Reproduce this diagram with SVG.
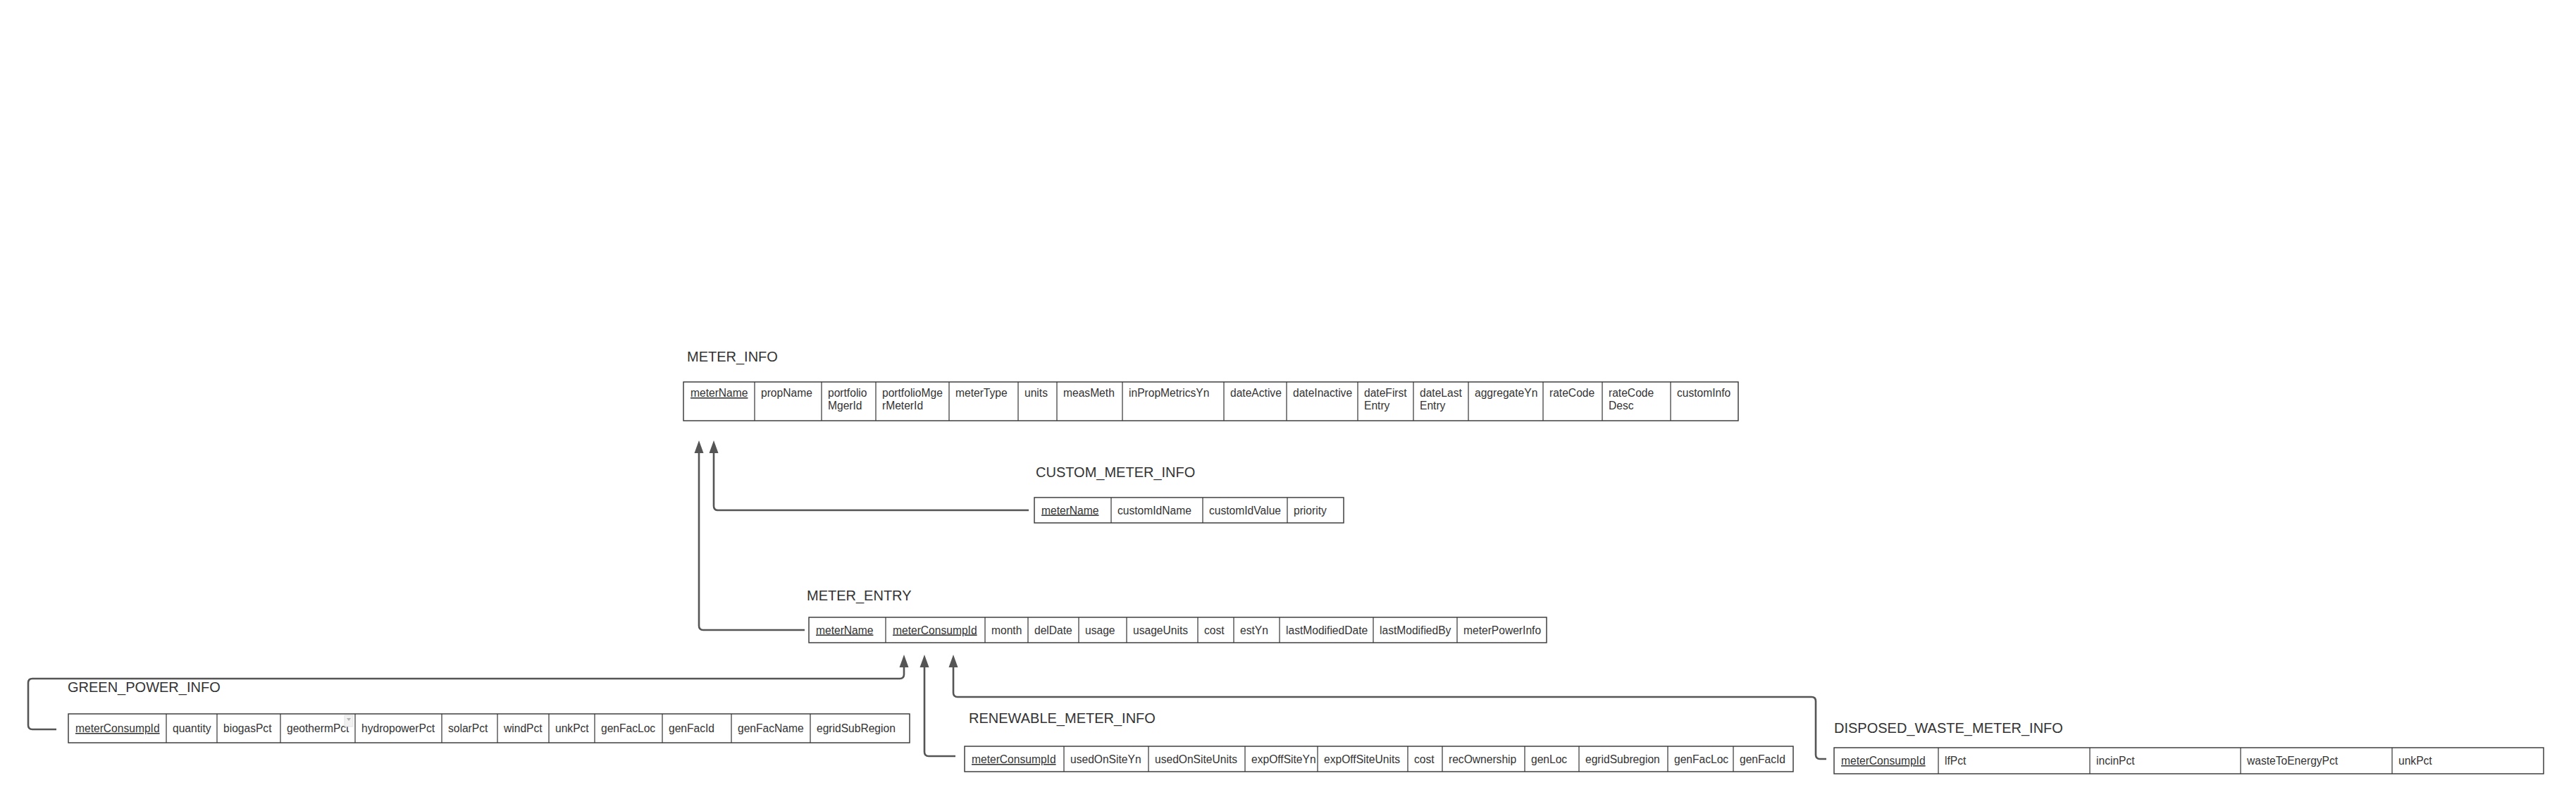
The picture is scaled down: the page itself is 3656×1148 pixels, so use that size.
<svg xmlns="http://www.w3.org/2000/svg" width="3656" height="1148" viewBox="0 0 3656 1148">
<style>
.bg{fill:#ffffff}
.title{font-family:"Liberation Sans",Arial,sans-serif;font-size:20px;fill:#333333}
.t{font-family:"Liberation Sans",Arial,sans-serif;font-size:15.6px;fill:#333333}
.pk{text-decoration:underline}
.cell{fill:#ffffff;stroke:#333333;stroke-width:1.4}
.div{stroke:#333333;stroke-width:1.2}
.conn{fill:none;stroke:#555555;stroke-width:2.6}
</style>
<defs>
<marker id="arr" markerUnits="userSpaceOnUse" markerWidth="18" markerHeight="14" viewBox="0 0 18 14" refX="0" refY="7" orient="auto">
<path d="M0,0.5 L18,7 L0,13.5 z" fill="#555555"/>
</marker>
</defs>
<rect class="bg" x="0" y="0" width="3656" height="1148"/>

<g id="connectors">
<path class="conn" marker-end="url(#arr)" d="M1142,894 H998 Q992,894 992,888 V643"/>
<path class="conn" marker-end="url(#arr)" d="M1460,724 H1019 Q1013,724 1013,718 V643"/>
<path class="conn" marker-end="url(#arr)" d="M80,1035 H46 Q40,1035 40,1029 V969 Q40,963 46,963 H1277 Q1283,963 1283,957 V947"/>
<path class="conn" marker-end="url(#arr)" d="M1356,1073 H1318 Q1312,1073 1312,1067 V947"/>
<path class="conn" marker-end="url(#arr)" d="M2592,1077 H2583 Q2577,1077 2577,1071 V995 Q2577,989 2571,989 H1359 Q1353,989 1353,983 V947"/>
</g>

<g id="METER_INFO">
<text class="title" x="975" y="513">METER_INFO</text>
<rect class="cell" x="970" y="542" width="1497" height="55"/>
<g class="div">
<line x1="1071" y1="542" x2="1071" y2="597"/><line x1="1166" y1="542" x2="1166" y2="597"/>
<line x1="1243" y1="542" x2="1243" y2="597"/><line x1="1347" y1="542" x2="1347" y2="597"/>
<line x1="1445" y1="542" x2="1445" y2="597"/><line x1="1500" y1="542" x2="1500" y2="597"/>
<line x1="1593" y1="542" x2="1593" y2="597"/><line x1="1737" y1="542" x2="1737" y2="597"/>
<line x1="1826" y1="542" x2="1826" y2="597"/><line x1="1927" y1="542" x2="1927" y2="597"/>
<line x1="2006" y1="542" x2="2006" y2="597"/><line x1="2084" y1="542" x2="2084" y2="597"/>
<line x1="2190" y1="542" x2="2190" y2="597"/><line x1="2274" y1="542" x2="2274" y2="597"/>
<line x1="2371" y1="542" x2="2371" y2="597"/>
</g>
<text class="t pk" x="980" y="563">meterName</text>
<text class="t" x="1080" y="563">propName</text>
<text class="t" x="1175" y="563">portfolio</text>
<text class="t" x="1175" y="581">MgerId</text>
<text class="t" x="1252" y="563">portfolioMge</text>
<text class="t" x="1252" y="581">rMeterId</text>
<text class="t" x="1356" y="563">meterType</text>
<text class="t" x="1454" y="563">units</text>
<text class="t" x="1509" y="563">measMeth</text>
<text class="t" x="1602" y="563">inPropMetricsYn</text>
<text class="t" x="1746" y="563">dateActive</text>
<text class="t" x="1835" y="563">dateInactive</text>
<text class="t" x="1936" y="563">dateFirst</text>
<text class="t" x="1936" y="581">Entry</text>
<text class="t" x="2015" y="563">dateLast</text>
<text class="t" x="2015" y="581">Entry</text>
<text class="t" x="2093" y="563">aggregateYn</text>
<text class="t" x="2199" y="563">rateCode</text>
<text class="t" x="2283" y="563">rateCode</text>
<text class="t" x="2283" y="581">Desc</text>
<text class="t" x="2380" y="563">customInfo</text>
</g>

<g id="CUSTOM_METER_INFO">
<text class="title" x="1470" y="677">CUSTOM_METER_INFO</text>
<rect class="cell" x="1468" y="706" width="439" height="36"/>
<g class="div">
<line x1="1577" y1="706" x2="1577" y2="742"/><line x1="1707" y1="706" x2="1707" y2="742"/>
<line x1="1827" y1="706" x2="1827" y2="742"/>
</g>
<text class="t pk" x="1478" y="729.5">meterName</text>
<text class="t" x="1586" y="729.5">customIdName</text>
<text class="t" x="1716" y="729.5">customIdValue</text>
<text class="t" x="1836" y="729.5">priority</text>
</g>

<g id="METER_ENTRY">
<text class="title" x="1145" y="852">METER_ENTRY</text>
<rect class="cell" x="1148" y="876" width="1047" height="36"/>
<g class="div">
<line x1="1257" y1="876" x2="1257" y2="912"/><line x1="1398" y1="876" x2="1398" y2="912"/>
<line x1="1459" y1="876" x2="1459" y2="912"/><line x1="1531" y1="876" x2="1531" y2="912"/>
<line x1="1599" y1="876" x2="1599" y2="912"/><line x1="1700" y1="876" x2="1700" y2="912"/>
<line x1="1751" y1="876" x2="1751" y2="912"/><line x1="1816" y1="876" x2="1816" y2="912"/>
<line x1="1949" y1="876" x2="1949" y2="912"/><line x1="2068" y1="876" x2="2068" y2="912"/>
</g>
<text class="t pk" x="1158" y="899.5">meterName</text>
<text class="t pk" x="1267" y="899.5">meterConsumpId</text>
<text class="t" x="1407" y="899.5">month</text>
<text class="t" x="1468" y="899.5">delDate</text>
<text class="t" x="1540" y="899.5">usage</text>
<text class="t" x="1608" y="899.5">usageUnits</text>
<text class="t" x="1709" y="899.5">cost</text>
<text class="t" x="1760" y="899.5">estYn</text>
<text class="t" x="1825" y="899.5">lastModifiedDate</text>
<text class="t" x="1958" y="899.5">lastModifiedBy</text>
<text class="t" x="2077" y="899.5">meterPowerInfo</text>
</g>

<g id="GREEN_POWER_INFO">
<text class="title" x="96" y="982">GREEN_POWER_INFO</text>
<rect class="cell" x="97" y="1013" width="1194" height="41"/>
<g class="div">
<line x1="236" y1="1013" x2="236" y2="1054"/><line x1="308" y1="1013" x2="308" y2="1054"/>
<line x1="398" y1="1013" x2="398" y2="1054"/><line x1="504" y1="1013" x2="504" y2="1054"/>
<line x1="627" y1="1013" x2="627" y2="1054"/><line x1="706" y1="1013" x2="706" y2="1054"/>
<line x1="779" y1="1013" x2="779" y2="1054"/><line x1="844" y1="1013" x2="844" y2="1054"/>
<line x1="940" y1="1013" x2="940" y2="1054"/><line x1="1038" y1="1013" x2="1038" y2="1054"/>
<line x1="1150" y1="1013" x2="1150" y2="1054"/>
</g>
<text class="t pk" x="107" y="1039">meterConsumpId</text>
<text class="t" x="245" y="1039">quantity</text>
<text class="t" x="317" y="1039">biogasPct</text>
<text class="t" x="407" y="1039">geothermPct</text>
<rect x="489" y="1015" width="12" height="16" fill="#f2f2f2" stroke="#dddddd" stroke-width="0.8"/>
<path d="M492,1019 L498,1019 L495,1023 z" fill="#b0b0b0"/>
<text class="t" x="513" y="1039">hydropowerPct</text>
<text class="t" x="636" y="1039">solarPct</text>
<text class="t" x="715" y="1039">windPct</text>
<text class="t" x="788" y="1039">unkPct</text>
<text class="t" x="853" y="1039">genFacLoc</text>
<text class="t" x="949" y="1039">genFacId</text>
<text class="t" x="1047" y="1039">genFacName</text>
<text class="t" x="1159" y="1039">egridSubRegion</text>
</g>

<g id="RENEWABLE_METER_INFO">
<text class="title" x="1375" y="1026">RENEWABLE_METER_INFO</text>
<rect class="cell" x="1369" y="1059" width="1176" height="36"/>
<g class="div">
<line x1="1510" y1="1059" x2="1510" y2="1095"/><line x1="1630" y1="1059" x2="1630" y2="1095"/>
<line x1="1767" y1="1059" x2="1767" y2="1095"/><line x1="1870" y1="1059" x2="1870" y2="1095"/>
<line x1="1998" y1="1059" x2="1998" y2="1095"/><line x1="2047" y1="1059" x2="2047" y2="1095"/>
<line x1="2164" y1="1059" x2="2164" y2="1095"/><line x1="2241" y1="1059" x2="2241" y2="1095"/>
<line x1="2367" y1="1059" x2="2367" y2="1095"/><line x1="2460" y1="1059" x2="2460" y2="1095"/>
</g>
<text class="t pk" x="1379" y="1083">meterConsumpId</text>
<text class="t" x="1519" y="1083">usedOnSiteYn</text>
<text class="t" x="1639" y="1083">usedOnSiteUnits</text>
<text class="t" x="1776" y="1083">expOffSiteYn</text>
<text class="t" x="1879" y="1083">expOffSiteUnits</text>
<text class="t" x="2007" y="1083">cost</text>
<text class="t" x="2056" y="1083">recOwnership</text>
<text class="t" x="2173" y="1083">genLoc</text>
<text class="t" x="2250" y="1083">egridSubregion</text>
<text class="t" x="2376" y="1083">genFacLoc</text>
<text class="t" x="2469" y="1083">genFacId</text>
</g>

<g id="DISPOSED_WASTE_METER_INFO">
<text class="title" x="2603" y="1040">DISPOSED_WASTE_METER_INFO</text>
<rect class="cell" x="2603" y="1061" width="1007" height="37"/>
<g class="div">
<line x1="2751" y1="1061" x2="2751" y2="1098"/><line x1="2966" y1="1061" x2="2966" y2="1098"/>
<line x1="3180" y1="1061" x2="3180" y2="1098"/><line x1="3395" y1="1061" x2="3395" y2="1098"/>
</g>
<text class="t pk" x="2613" y="1085">meterConsumpId</text>
<text class="t" x="2760" y="1085">lfPct</text>
<text class="t" x="2975" y="1085">incinPct</text>
<text class="t" x="3189" y="1085">wasteToEnergyPct</text>
<text class="t" x="3404" y="1085">unkPct</text>
</g>
</svg>
